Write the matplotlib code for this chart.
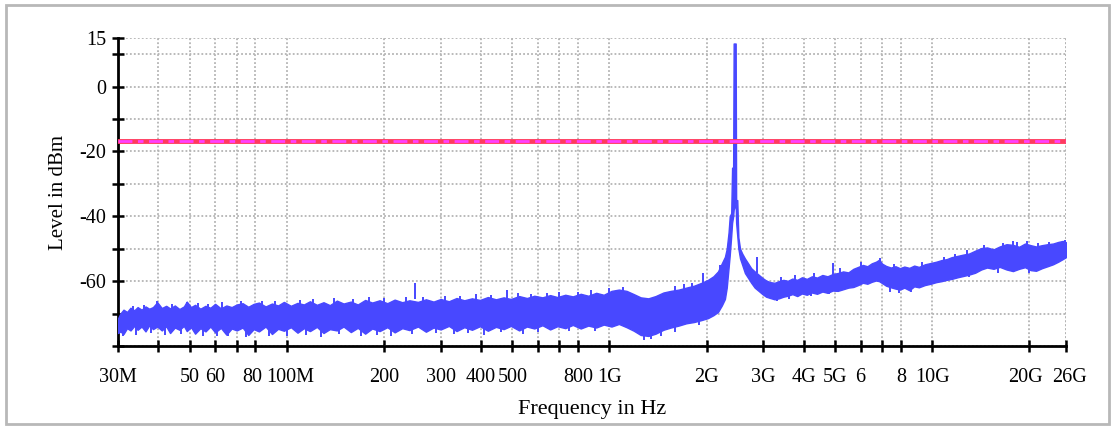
import matplotlib
matplotlib.use("Agg")
import matplotlib.pyplot as plt
import matplotlib.transforms as mtransforms
from matplotlib.patches import Rectangle

# --- spectrum envelope (freq in MHz, level in dBm) ---
freq_mhz = [30, 30.5, 31.2, 32.0, 32.8, 33.7, 34.5, 35.5, 36.5, 37.5, 38.5, 39.7,
            41.0, 42.3, 43.5, 45.0, 46.5, 48.0, 49.0, 50.5, 52.0, 54.0, 56.0, 58.0,
            60.0, 62.5, 65.0, 67.5, 70.0, 73.0, 76.0, 79.0, 82.0, 86.0, 90.0, 94.0,
            98.0, 103, 108, 113, 118, 124, 130, 136, 143, 150, 158, 166, 175, 184,
            194, 205, 216, 228, 240, 255, 270, 285, 300, 318, 336, 355, 375, 397,
            420, 445, 470, 495, 525, 555, 585, 620, 655, 690, 730, 770, 815, 860,
            910, 960, 1015, 1070, 1130, 1190, 1250, 1320, 1390, 1470, 1550, 1640,
            1730, 1830, 1930, 2020, 2100, 2170, 2230, 2280, 2310, 2340, 2360, 2385,
            2400, 2418, 2427, 2462, 2470, 2490, 2510, 2540, 2580, 2630, 2690, 2750,
            2820, 2900, 2980, 3060, 3150, 3250, 3350, 3460, 3570, 3690, 3820, 3950,
            4090, 4240, 4400, 4570, 4740, 4920, 5100, 5300, 5500, 5700, 5900, 6100,
            6300, 6500, 6700, 6850, 7000, 7200, 7450, 7700, 7950, 8200, 8500, 8800,
            9100, 9500, 9900, 10300, 10700, 11100, 11500, 12000, 12500, 13000, 13600,
            14200, 14800, 15500, 16200, 17000, 17800, 18600, 19400, 20200, 21000,
            21900, 22800, 23700, 24600, 25400, 26000]

level_max = [-71.5, -70.0, -68.8, -69.5, -68.2, -69.0, -68.0, -68.8, -67.8, -68.5, -68.0, -66.5,
             -68.3, -67.6, -68.4, -67.5, -68.6, -67.8, -66.3, -68.0, -67.3, -68.5, -67.6, -68.2,
             -67.0, -68.4, -67.5, -68.0, -67.2, -66.8, -67.9, -67.0, -66.6, -67.8, -66.9, -67.5,
             -66.4, -67.6, -66.7, -67.2, -66.2, -67.3, -66.5, -67.4, -66.0, -66.9, -66.3, -67.2, -65.8, -66.6,
             -65.9, -66.8, -65.7, -66.5, -65.9, -66.4, -65.6, -66.3, -65.5, -66.2, -65.2, -65.9, -65.3, -65.8,
             -64.9, -65.6, -65.0, -65.5, -64.6, -65.2, -64.5, -65.0, -64.3, -64.9, -64.2, -64.7, -63.9, -64.5,
             -63.6, -64.2, -63.0, -62.6, -63.0, -64.0, -65.0, -65.3, -64.6, -63.5, -63.0, -62.6,
             -62.0, -61.4, -60.5, -59.6, -58.5, -57.0, -54.5, -52.5, -50.0, -45.0, -40.0, -39.0,
             -25.0, -25.0, 13.3, 13.3, -35.0, -35.0, -46.5, -50.0, -51.5, -53.0, -54.5, -56.0,
             -57.0, -58.0, -59.0, -59.8, -60.3, -60.5, -60.0, -59.6, -59.9, -59.2, -59.6, -58.8,
             -59.3, -58.5, -58.9, -58.1, -58.5, -57.8, -57.5, -57.0, -57.3, -56.2, -55.6, -55.0,
             -55.4, -54.5, -54.0, -53.4, -54.6, -55.3, -55.8, -55.4, -56.0, -55.5, -55.9, -55.2,
             -55.6, -54.8, -54.4, -54.0, -53.5, -53.2, -52.6, -52.2, -51.8, -51.5, -50.6,
             -49.8, -49.6, -50.2, -49.3, -48.6, -48.8, -49.4, -48.4, -48.9, -49.3,
             -48.9, -48.6, -48.4, -47.9, -47.6, -48.0]

level_min = [-76.0, -75.5, -76.3, -74.5, -75.2, -73.8, -75.0, -74.0, -75.5, -73.6, -74.8, -74.0,
             -75.2, -73.9, -76.0, -74.3, -75.0, -73.8, -75.4, -74.2, -76.2, -74.5, -75.5, -74.0,
             -75.8, -74.4, -76.5, -74.6, -75.2, -74.3, -76.6, -74.8, -75.5, -74.0, -76.3, -74.7,
             -75.3, -74.2, -75.9, -74.5, -75.4, -74.1, -76.0, -74.8, -75.2, -74.0, -75.7, -74.4, -76.2, -74.6,
             -75.4, -74.2, -75.8, -74.5, -75.1, -74.0, -75.6, -74.3, -74.9, -73.8, -75.4, -74.2, -75.0, -73.9,
             -75.3, -74.1, -74.8, -73.8, -75.2, -74.0, -74.6, -73.6, -74.9, -73.9, -74.5, -73.5, -74.6, -73.7,
             -74.3, -73.4, -74.0, -73.2, -74.2, -75.3, -76.6, -76.9, -76.2, -75.0, -74.3, -73.7,
             -73.0, -72.6, -72.0, -71.4, -70.5, -69.5, -67.5, -65.5, -62.0, -56.0, -52.0, -46.0,
             -42.0, -40.0, -38.0, -36.0, -42.0, -46.0, -50.0, -53.0, -55.0, -57.5, -59.0, -60.5,
             -62.0, -63.0, -64.0, -64.8, -65.2, -65.6, -65.3, -64.8, -64.5, -64.0, -64.6, -63.8,
             -64.2, -63.5, -63.9, -63.2, -63.6, -62.9, -63.0, -62.5, -62.0, -61.8, -61.2, -60.5,
             -60.8, -60.2, -59.8, -60.0, -60.6, -61.4, -61.9, -62.3, -62.6, -62.0, -62.8, -61.6,
             -61.9, -61.2, -60.8, -60.3, -60.0, -59.6, -59.3, -58.8, -58.4, -58.0, -57.4,
             -56.4, -55.8, -56.2, -55.6, -56.4, -56.9, -56.2, -55.7, -56.6, -56.8,
             -56.0, -55.4, -54.8, -54.0, -53.2, -52.6]

# narrow spurs poking above the noise band (MHz, top level dBm)
up_mhz = [33.5, 36, 39.7, 44, 49, 53, 57, 63, 72, 84, 92, 110, 121, 140, 160, 180, 200,
          235, 250, 265, 310, 345, 385, 430, 480, 520, 570, 640, 700, 800, 880, 1000, 1100,
          1600, 1700, 1800, 1950, 2200, 2870, 3400, 3750, 4300, 4920, 5200, 6000, 6900,
          7600, 9300, 10900, 11800, 12800, 14500, 16600, 17800, 18300, 19700, 21300,
          23000, 25800]
up_top = [-67.6, -67.2, -66.0, -67.0, -66.3, -66.8, -67.0, -66.5, -66.2, -66.0, -66.2,
          -65.8, -65.5, -65.3, -65.5, -64.8, -65.2, -65.0, -60.5, -64.8, -64.5, -64.6,
          -64.0, -64.2, -62.8, -63.8, -64.0, -63.5, -63.2, -63.4, -62.8, -62.0, -61.8,
          -61.6, -61.0, -60.5, -57.5, -55.0, -52.5, -58.6, -58.0, -57.5, -54.5, -56.0,
          -54.2, -53.0, -54.6, -54.0, -52.5, -51.5, -50.5, -48.8, -48.2, -47.5, -48.0,
          -47.6, -48.2, -47.8, -47.2]

# narrow dips below the noise band (MHz, bottom level dBm)
down_mhz = [31, 34, 38, 42, 47, 55, 61, 66, 75, 88, 100, 115, 128, 145, 170, 190, 210,
            245, 290, 330, 365, 410, 460, 540, 600, 750, 900, 1280, 1350, 1450, 1600,
            1900, 3300, 3600, 4200, 4800, 7400, 7900, 8600, 13000, 16000, 20000]
down_bottom = [-77.0, -76.5, -76.0, -76.5, -76.2, -76.8, -77.0, -76.9, -77.2, -76.8,
               -77.0, -76.5, -77.2, -76.3, -77.0, -76.5, -76.8, -76.4, -76.0, -76.2,
               -76.0, -76.5, -75.8, -76.2, -75.6, -75.5, -75.3, -78.0, -77.8, -77.0,
               -75.8, -73.5, -66.0, -65.5, -64.5, -64.0, -63.2, -63.5, -63.4, -58.8,
               -57.5, -57.5]

limit_dbm = -16.7

# axis ticks
x_ticks_mhz = [30, 40, 50, 60, 70, 80, 100, 200, 300, 400, 500, 600, 700, 800, 1000,
               2000, 3000, 4000, 5000, 6000, 7000, 8000, 10000, 20000, 26000]
x_labels = ["30M", "", "50", "60", "", "80", "100M", "200", "300", "400", "500", "", "",
            "800", "1G", "2G", "3G", "4G", "5G", "6", "", "8", "10G", "20G", "26G"]
y_ticks = [15, 10, 0, -10, -20, -30, -40, -50, -60, -70, -80]
y_labels = ["15", "", "0", "", "-20", "", "-40", "", "-60", "", ""]

plt.rcParams['font.family'] = ['Liberation Serif', 'DejaVu Serif']

fig = plt.figure(figsize=(11.15, 4.26), dpi=100, facecolor='white')
fig.add_artist(Rectangle((6 / 1115, 2 / 426), 1103 / 1115, 419 / 426,
                         transform=fig.transFigure, fill=False,
                         edgecolor='#b8b8b8', linewidth=2))
ax = fig.add_axes([118 / 1115, 80 / 426, 948 / 1115, 308 / 426])

trace = '#4848ff'
f_hz = [f * 1e6 for f in freq_mhz]
ax.fill_between(f_hz, level_min, level_max, color=trace, edgecolor=trace,
                linewidth=1.0, zorder=3)
ax.vlines([f * 1e6 for f in up_mhz], [t - 5 for t in up_top], up_top,
          color=trace, linewidth=1.4, zorder=3)
ax.vlines([f * 1e6 for f in down_mhz], down_bottom, [b + 5 for b in down_bottom],
          color=trace, linewidth=1.4, zorder=3)

# limit line: red with magenta dashes on top
ax.axhline(limit_dbm, color='#ff3b5e', linewidth=3.5, zorder=4)
ax.axhline(limit_dbm, color='#ff40ff', linewidth=2, dashes=(5, 2, 2, 2), zorder=4)

ax.set_xscale('log')
ax.set_xlim(30e6, 26e9)
ax.set_ylim(-80, 15)
ax.set_xticks([f * 1e6 for f in x_ticks_mhz])
ax.set_xticklabels(x_labels)
ax.xaxis.set_minor_locator(matplotlib.ticker.NullLocator())
ax.set_yticks(y_ticks)
ax.set_yticklabels(y_labels)

ax.grid(True, color='#b4b4b4', linestyle=(0, (1, 1.2)), linewidth=1.3, zorder=1)
ax.axvline(26e9, color='#b4b4b4', linestyle=(0, (1, 1.2)), linewidth=1.3, zorder=1)

for s in ['top', 'right']:
    ax.spines[s].set_visible(False)
for s in ['left', 'bottom']:
    ax.spines[s].set_linewidth(2)
ax.tick_params(axis='both', direction='inout', length=9, width=1.8, labelsize=14.5)
ax.tick_params(axis='x', pad=11)
ax.tick_params(axis='y', pad=4)

# crowded neighbours ("80100M", "20G26G") get pushed apart a touch
nudge = {"80": -2.5, "100M": 2.5, "20G": -2.5, "26G": 2.5}
for lab in ax.get_xticklabels():
    dx = nudge.get(lab.get_text(), 0)
    if dx:
        lab.set_transform(lab.get_transform() +
                          mtransforms.ScaledTranslation(dx / 72, 0, fig.dpi_scale_trans))

ax.set_xlabel("Frequency in Hz", fontsize=16, labelpad=10)
ax.set_ylabel("Level in dBm", fontsize=15, labelpad=8)

fig.savefig("out.png", dpi=100, facecolor='white')
